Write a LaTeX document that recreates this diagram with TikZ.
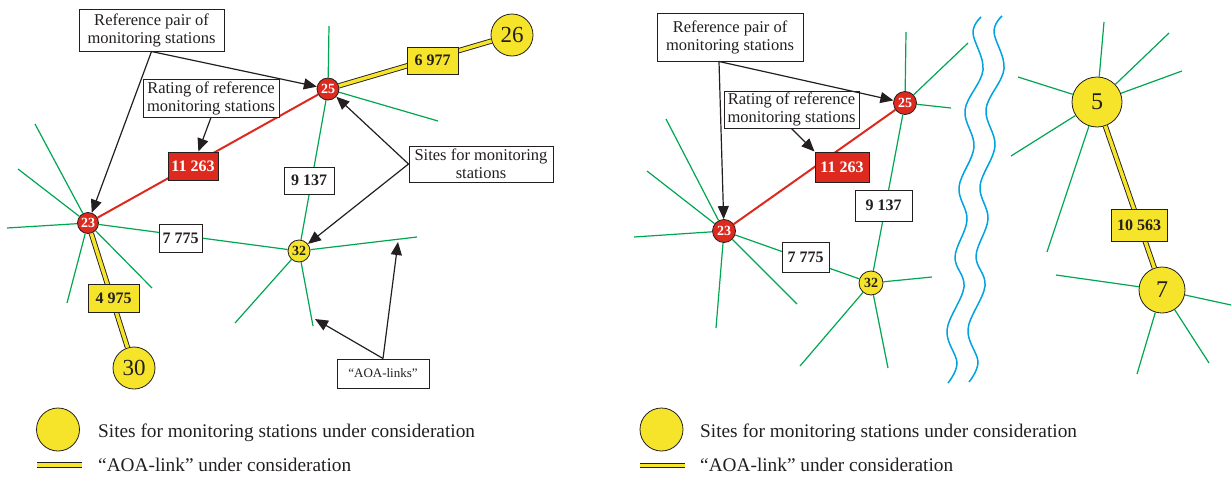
\documentclass[tikz,border=0pt]{standalone}
\usepackage{fontspec}
\setmainfont{Liberation Serif}
\usetikzlibrary{arrows.meta}
\definecolor{sred}{RGB}{221,41,30}
\definecolor{syel}{RGB}{246,228,42}
\definecolor{sgreen}{RGB}{0,166,81}
\definecolor{sblue}{RGB}{0,163,224}
\definecolor{sdark}{RGB}{35,31,32}
\begin{document}
\begin{tikzpicture}[x=1pt,y=-1pt,
 refst/.style={circle, draw=sdark, line width=0.8pt, fill=sred, text=white, font=\fontsize{14}{14}\selectfont\bfseries, inner sep=0pt, minimum size=21pt},
 smallsite/.style={circle, draw=sdark, line width=0.8pt, fill=syel, text=sdark, font=\fontsize{14}{14}\selectfont\bfseries, inner sep=0pt, minimum size=22pt},
 bigsite/.style={circle, draw=sdark, line width=0.8pt, fill=syel, text=sdark, font=\fontsize{23}{23}\selectfont, inner sep=0pt, minimum size=#1},
 spoke/.style={draw=sgreen, line width=1.2pt},
 redlink/.style={draw=sred, line width=2pt},
 aoalink/.style={draw=sdark, line width=0.9pt, double=syel, double distance=3.5pt},
 txtbox/.style={draw=sdark, fill=white, line width=1pt, align=center, inner sep=1pt, text=sdark, font=\fontsize{16.5}{18}\selectfont},
 numbox/.style={draw=sdark, fill=white, line width=1pt, inner sep=0pt, text=sdark, font=\fontsize{16}{16}\selectfont\bfseries},
 ptr/.style={draw=sdark, line width=1.2pt, -{Triangle[length=13pt,width=11pt]}},
 wave/.style={draw=sblue, line width=1.5pt},
 legtxt/.style={anchor=base west, inner sep=0pt, text=sdark, font=\fontsize{19.3}{19.3}\selectfont}
]
\useasboundingbox (0,0) rectangle (1231,477);

% ---------------- left diagram: stations
\node[refst] (L23) at (88,223) {23};
\node[refst, minimum size=22pt] (L25) at (328,89) {25};
\node[smallsite] (L32) at (299,251) {32};
\node[bigsite=42pt] (L26) at (512,35) {26};
\node[bigsite=42pt] (L30) at (134,368) {30};

% spokes
\foreach \x/\y [count=\i] in {35/124,18/169,7/228,67/303,152/288}
  {\coordinate (La\i) at (\x,\y); \draw[spoke] (L23) -- (La\i);}
\foreach \x/\y [count=\i] in {329/26,438/121}
  {\coordinate (Lb\i) at (\x,\y); \draw[spoke] (L25) -- (Lb\i);}
\foreach \x/\y [count=\i] in {417/237,235/323,313/326}
  {\coordinate (Lc\i) at (\x,\y); \draw[spoke] (L32) -- (Lc\i);}

% links
\draw[redlink] (L23) -- (L25);
\draw[spoke] (L23) -- (L32);
\draw[spoke] (L25) -- (L32);
\draw[aoalink] (L25) -- (L26);
\draw[aoalink] (L23) -- (L30);

% boxes
\node[numbox, fill=sred, text=white, minimum width=50pt, minimum height=28pt] (L11) at (193,166) {11 263};
\node[numbox, minimum width=50pt, minimum height=27pt] (L9) at (309,180.5) {9 137};
\node[numbox, fill=syel, minimum width=51pt, minimum height=27pt] (L6) at (432.5,60.5) {6 977};
\node[numbox, minimum width=43pt, minimum height=28pt] (L7) at (180.5,238) {7 775};
\node[numbox, fill=syel, minimum width=51pt, minimum height=28pt] (L4) at (113.5,298) {4 975};

\node[txtbox, minimum width=145pt, minimum height=42pt] (LRef) at (151.5,30) {Reference pair of\\monitoring stations};
\node[txtbox, minimum width=136pt, minimum height=38pt] (LRate) at (211,98) {Rating of reference\\monitoring stations};
\node[txtbox, minimum width=144pt, minimum height=36pt] (LSites) at (481,164) {Sites for monitoring\\stations};
\node[txtbox, minimum width=92pt, minimum height=29pt, font=\fontsize{13}{13}\selectfont] (LAOA) at (383,373.5) {“AOA-links”};

% pointers
\draw[ptr] (LRef.south) -- (L23);
\draw[ptr] (LRef.south) -- (L25);
\draw[ptr] (LRate.south) -- (L11);
\draw[ptr] (LSites.west) -- (L25);
\draw[ptr] (LSites.west) -- (L32);
\coordinate (LA1) at (315,319);
\coordinate (LA2) at (398,242);
\draw[ptr] (LAOA.north) -- (LA1);
\draw[ptr] (LAOA.north) -- (LA2);

% ---------------- right diagram
\node[refst, minimum size=23pt] (R23) at (724,231) {23};
\node[refst, minimum size=23pt] (R25) at (905,103) {25};
\node[smallsite, minimum size=24pt] (R32) at (871,283) {32};
\node[bigsite=50pt, font=\fontsize{24}{24}\selectfont] (R5) at (1097,102) {5};
\node[bigsite=46pt, font=\fontsize{24}{24}\selectfont] (R7) at (1162,290) {7};

\foreach \x/\y [count=\i] in {666/119,647/171,634/237,716/328,797/304}
  {\coordinate (Ra\i) at (\x,\y); \draw[spoke] (R23) -- (Ra\i);}
\foreach \x/\y [count=\i] in {906/32,968/43,951/108}
  {\coordinate (Rb\i) at (\x,\y); \draw[spoke] (R25) -- (Rb\i);}
\foreach \x/\y [count=\i] in {932/277,800/366,888/368}
  {\coordinate (Rc\i) at (\x,\y); \draw[spoke] (R32) -- (Rc\i);}
\foreach \x/\y [count=\i] in {1104/22,1169/33,1182/71,1018/77,1011/156,1047/252}
  {\coordinate (Rd\i) at (\x,\y); \draw[spoke] (R5) -- (Rd\i);}
\foreach \x/\y [count=\i] in {1056/275,1231/305,1137/374,1209/363}
  {\coordinate (Re\i) at (\x,\y); \draw[spoke] (R7) -- (Re\i);}

\draw[redlink] (R23) -- (R25);
\draw[spoke] (R23) -- (R32);
\draw[spoke] (R25) -- (R32);
\draw[aoalink] (R5) -- (R7);

\node[numbox, fill=sred, text=white, minimum width=54pt, minimum height=30pt] (R11) at (842,167) {11 263};
\node[numbox, minimum width=57pt, minimum height=31pt] (R9) at (883.5,205.5) {9 137};
\node[numbox, minimum width=47pt, minimum height=30pt] (R7b) at (805.5,257) {7 775};
\node[numbox, fill=syel, minimum width=56pt, minimum height=32pt] (R10) at (1139,225) {10 563};

\node[txtbox, minimum width=146pt, minimum height=48pt] (RRef) at (730,37) {Reference pair of\\monitoring stations};
\node[txtbox, minimum width=135pt, minimum height=37pt] (RRate) at (791.5,109.5) {Rating of reference\\monitoring stations};

\draw[ptr] ([xshift=-11pt]RRef.south) -- (R23);
\draw[ptr] ([xshift=-11pt]RRef.south) -- (R25);
\draw[ptr] (RRate.south) -- (R11.north west);

% river
\draw[wave] plot[smooth, tension=0.6] coordinates {(981,17) (973,33) (983,70) (965,110) (974,147) (959,187) (967,220) (955,257) (964,287) (947,330) (957,363) (948,383)};
\draw[wave, shift={(21,-1)}] plot[smooth, tension=0.6] coordinates {(981,17) (973,33) (983,70) (965,110) (974,147) (959,187) (967,220) (955,257) (964,287) (947,330) (957,363) (948,383)};

% ---------------- legends
\node[bigsite=43pt] (LegL) at (58,429.5) {};
\coordinate (LegLa) at (37,465);
\coordinate (LegLb) at (82,465);
\draw[aoalink] (LegLa) -- (LegLb);
\node[legtxt] (LegLt1) at (98,437) {Sites for monitoring stations under consideration};
\node[legtxt] (LegLt2) at (98,471) {“AOA-link” under consideration};

\node[bigsite=43pt] (LegR) at (661.5,429.5) {};
\coordinate (LegRa) at (640,465.5);
\coordinate (LegRb) at (685,465.5);
\draw[aoalink] (LegRa) -- (LegRb);
\node[legtxt] (LegRt1) at (700,437) {Sites for monitoring stations under consideration};
\node[legtxt] (LegRt2) at (700,471) {“AOA-link” under consideration};
\end{tikzpicture}
\end{document}
